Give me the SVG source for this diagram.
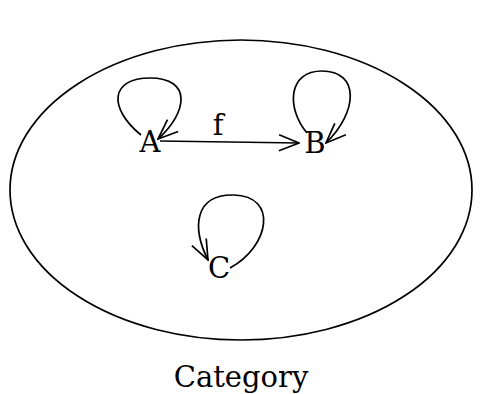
<svg xmlns="http://www.w3.org/2000/svg" width="482" height="394" viewBox="0 0 482 394">
<style>
.l{fill:none;stroke:#000;stroke-width:1.7}
.t{font-family:"DejaVu Serif","Liberation Serif",serif;font-size:29px;fill:#000;text-anchor:middle}
</style>
<defs>
<marker id="am" viewBox="0 0 22 22" refX="21" refY="11" markerWidth="22" markerHeight="22" markerUnits="userSpaceOnUse" orient="auto">
<path d="M1,3 L21,11 L1,19" fill="none" stroke="#000" stroke-width="1.7"/>
</marker>
</defs>
<g id="category">
<ellipse cx="241" cy="190" rx="231" ry="150" class="l"/>
<text x="241" y="387" class="t">Category</text>
</g>
<g id="A"><text x="150" y="152" class="t">A</text></g>
<g id="B"><text x="315" y="153" class="t">B</text></g>
<g id="C"><text x="219" y="278" class="t">C</text></g>
<g id="connectors">
<line x1="160" y1="141" x2="299" y2="143" class="l" marker-end="url(#am)"/>
<text x="218" y="135" class="t">f</text>
<path d="M141,135 C108,108 110,78 150,78 C192,78 188,112 158,139" class="l" marker-end="url(#am)"/>
<path d="M307,133 C286,108 288,71 322,71 C360,71 358,112 326,143" class="l" marker-end="url(#am)"/>
<path d="M230,268 C270,246 278,196 234,195 C194,194 192,228 208,260" class="l" marker-end="url(#am)"/>
</g>
</svg>
